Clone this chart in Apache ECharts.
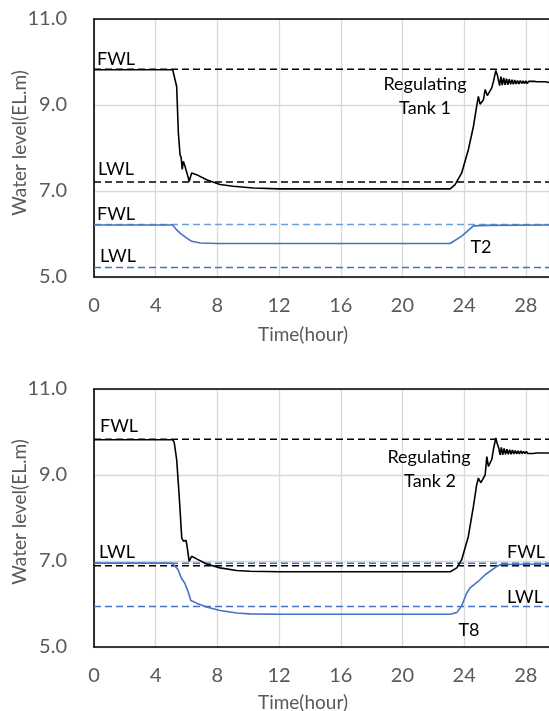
<!DOCTYPE html>
<html>
<head>
<meta charset="utf-8">
<script src="https://cdn.jsdelivr.net/npm/echarts@6/dist/echarts.min.js"></script>
<style>
  html, body { margin: 0; padding: 0; background: #fff; }
  #chart { width: 549px; height: 711px; }
</style>
</head>
<body>
<div id="chart"></div>
<script>
// ---------------- data (time in hours, water level in EL.m)
const TIME_MAX = 29.5;
const xTicks = [0, 4, 8, 12, 16, 20, 24, 28];
const yTicks = [5, 7, 9, 11];

// 上图：Regulating Tank 1 + T2
const tank1 = [
  [0, 9.82], [5.1, 9.82], [5.2, 9.78], [5.36, 9.43], [5.47, 8.35], [5.58, 7.84],
  [5.65, 7.78], [5.72, 7.5], [5.79, 7.69], [5.88, 7.6], [6.0, 7.57], [6.12, 7.3],
  [6.17, 7.22], [6.33, 7.42], [6.65, 7.38], [7.3, 7.26], [8.17, 7.15], [9.03, 7.11],
  [10.33, 7.07], [12, 7.05], [23.09, 7.05], [23.41, 7.15], [23.84, 7.42], [24.27, 7.96],
  [24.6, 8.5], [24.81, 8.97], [24.92, 9.2], [25.03, 9.02], [25.14, 9.06], [25.25, 9.12],
  [25.36, 9.36], [25.5, 9.22], [25.57, 9.26], [25.79, 9.4], [25.9, 9.55], [26.05, 9.8],
  [26.15, 9.7], [26.22, 9.68], [26.3, 9.45], [26.38, 9.66], [26.47, 9.46], [26.56, 9.63],
  [26.65, 9.47], [26.74, 9.61], [26.83, 9.47], [26.92, 9.6], [27.01, 9.48], [27.1, 9.59],
  [27.19, 9.48], [27.28, 9.58], [27.37, 9.49], [27.46, 9.57], [27.55, 9.49], [27.64, 9.57],
  [27.73, 9.5], [27.82, 9.56], [27.91, 9.5], [28.0, 9.56], [28.09, 9.5], [28.18, 9.55],
  [28.27, 9.51], [28.36, 9.55], [28.45, 9.51], [28.54, 9.55], [28.63, 9.51], [28.72, 9.54],
  [28.81, 9.51], [28.9, 9.54], [28.99, 9.51], [29.08, 9.54], [29.17, 9.52], [29.26, 9.54],
  [29.35, 9.52], [29.44, 9.53], [29.53, 9.52]
];
const t2 = [
  [0, 6.21], [5.1, 6.21], [5.3, 6.12], [5.58, 6.02], [5.95, 5.92], [6.33, 5.83],
  [6.9, 5.79], [8, 5.78], [23.09, 5.78], [23.84, 5.95], [24.6, 6.19], [25.5, 6.2],
  [29.5, 6.21]
];
const tank1FWL = 9.83;
const tank1LWL = 7.21;
const t2FWL = 6.22;
const t2LWL = 5.22;

// 下图：Regulating Tank 2 + T8
const tank2 = [
  [0, 9.82], [5.1, 9.82], [5.2, 9.76], [5.36, 9.36], [5.47, 8.8], [5.58, 8.19],
  [5.69, 7.53], [5.8, 7.46], [5.9, 7.5], [5.97, 7.48], [6.05, 7.3], [6.17, 6.99],
  [6.23, 6.99], [6.33, 7.11], [6.65, 7.05], [7.3, 6.93], [8.17, 6.84], [9.25, 6.78],
  [10.1, 6.76], [12, 6.75], [23.1, 6.75], [23.52, 6.84], [23.84, 7.03], [24.27, 7.57],
  [24.6, 8.27], [24.81, 8.77], [24.92, 8.93], [25.07, 8.82], [25.2, 8.9], [25.36, 9.0],
  [25.47, 9.43], [25.57, 9.2], [25.79, 9.36], [25.9, 9.6], [26.05, 9.86], [26.15, 9.72],
  [26.25, 9.62], [26.33, 9.47], [26.41, 9.64], [26.5, 9.47], [26.59, 9.62], [26.68, 9.48],
  [26.77, 9.6], [26.86, 9.48], [26.95, 9.59], [27.04, 9.48], [27.13, 9.58], [27.22, 9.49],
  [27.31, 9.57], [27.4, 9.49], [27.49, 9.56], [27.58, 9.49], [27.67, 9.56], [27.76, 9.5],
  [27.85, 9.55], [27.94, 9.5], [28.03, 9.55], [28.12, 9.5], [28.21, 9.54], [28.3, 9.5],
  [28.39, 9.54], [28.48, 9.5], [28.57, 9.54], [28.66, 9.51], [28.75, 9.53], [28.84, 9.51],
  [28.93, 9.53], [29.02, 9.51], [29.11, 9.53], [29.2, 9.51], [29.29, 9.53], [29.38, 9.51],
  [29.47, 9.52], [29.56, 9.51]
];
const t8 = [
  [0, 6.95], [5.03, 6.95], [5.2, 6.9], [5.45, 6.8], [5.67, 6.6], [5.88, 6.49],
  [6.1, 6.29], [6.28, 6.08], [6.65, 6.02], [7.3, 5.93], [8.17, 5.85], [9.25, 5.79],
  [10.1, 5.77], [12, 5.76], [23.1, 5.76], [23.52, 5.8], [23.84, 5.96], [24.16, 6.25],
  [24.37, 6.37], [24.92, 6.53], [25.36, 6.68], [26.1, 6.87], [26.4, 6.92], [29.5, 6.93]
];
const tank2FWL = 9.83;
const tank2LWL = 6.89;
const t8FWL = 6.95;
const t8LWL = 5.94;

// ---------------- style
const FONT = 'Lato';
const BLACK = '#000000';
const BLUE = '#4472C4';
const LIGHT_BLUE = '#6A9FDA';
const GRAY_TEXT = '#595959';
const GRID_LINE = '#D9D9D9';

const chart = echarts.init(document.getElementById('chart'), null, { renderer: 'canvas' });

const grids = [
  { left: 94, top: 19, width: 455, height: 258 },
  { left: 94, top: 389, width: 455, height: 258 }
];

function mainX(gi) {
  return {
    type: 'value', gridIndex: gi, min: 0, max: TIME_MAX, interval: 4,
    axisLine: { show: true, onZero: false, lineStyle: { color: BLACK, width: 1.6 } },
    axisTick: { show: false },
    axisLabel: {
      color: GRAY_TEXT, fontSize: 20, fontFamily: FONT, margin: 19,
      showMaxLabel: false,
      formatter: v => (xTicks.indexOf(v) >= 0 ? String(v) : '')
    },
    splitLine: { show: true, lineStyle: { color: GRID_LINE, width: 1.3 } }
  };
}
function topX(gi) {
  // 上边框
  return {
    type: 'value', gridIndex: gi, position: 'top', min: 0, max: TIME_MAX,
    axisLine: { show: true, onZero: false, lineStyle: { color: BLACK, width: 1.6 } },
    axisTick: { show: false }, axisLabel: { show: false }, splitLine: { show: false }
  };
}
function mainY(gi) {
  return {
    type: 'value', gridIndex: gi, min: yTicks[0], max: yTicks[yTicks.length - 1], interval: 2,
    axisLine: { show: true, onZero: false, lineStyle: { color: BLACK, width: 1.6 } },
    axisTick: { show: false },
    axisLabel: { color: GRAY_TEXT, fontSize: 20, fontFamily: FONT, margin: 27, formatter: v => v.toFixed(1) },
    splitLine: { show: true, lineStyle: { color: GRID_LINE, width: 1.3 } }
  };
}

function solid(data, color, xi) {
  return {
    type: 'line', data: data, xAxisIndex: xi, yAxisIndex: xi / 2,
    showSymbol: false, symbol: 'none', animation: false, z: 3,
    lineStyle: { color: color, width: 1.6 }
  };
}
function level(v, color, xi) {
  return {
    type: 'line', data: [[0, v], [TIME_MAX, v]], xAxisIndex: xi, yAxisIndex: xi / 2,
    showSymbol: false, symbol: 'none', animation: false, z: 2,
    lineStyle: { color: color, width: 1.5, type: [7, 4] }
  };
}

function txt(text, x, y, opts) {
  return Object.assign({
    type: 'text', x: x, y: y, z: 10,
    style: Object.assign({
      text: text, fill: BLACK, font: '18px ' + FONT, align: 'left', verticalAlign: 'middle'
    }, (opts && opts.style) || {})
  }, (opts && opts.props) || {});
}
const center = { style: { align: 'center' } };
const axisTitle = { style: { align: 'center', fill: GRAY_TEXT, font: '19px ' + FONT } };
const yTitle = { style: { align: 'center', fill: GRAY_TEXT, font: '19px ' + FONT }, props: { rotation: Math.PI / 2 } };

const option = {
  backgroundColor: '#fff',
  animation: false,
  grid: grids,
  xAxis: [mainX(0), topX(0), mainX(1), topX(1)],
  yAxis: [mainY(0), mainY(1)],
  series: [
    level(tank1FWL, BLACK, 0),
    level(tank1LWL, BLACK, 0),
    level(t2FWL, LIGHT_BLUE, 0),
    level(t2LWL, BLUE, 0),
    solid(t2, BLUE, 0),
    solid(tank1, BLACK, 0),
    level(tank2FWL, BLACK, 2),
    level(tank2LWL, BLACK, 2),
    level(t8FWL, BLUE, 2),
    level(t8LWL, BLUE, 2),
    solid(t8, BLUE, 2),
    solid(tank2, BLACK, 2)
  ],
  graphic: [
    // 上图标注
    txt('FWL', 97, 59),
    txt('LWL', 98, 169),
    txt('FWL', 97, 214),
    txt('LWL', 100, 256),
    txt('Regulating', 425, 84, center),
    txt('Tank 1', 425, 108, center),
    txt('T2', 481, 247, center),
    txt('Water level(EL.m)', 20, 143, yTitle),
    txt('Time(hour)', 303, 335, axisTitle),
    // 下图标注
    txt('FWL', 100, 426),
    txt('LWL', 99, 552),
    txt('Regulating', 429, 457, center),
    txt('Tank 2', 430, 481, center),
    txt('FWL', 507, 552),
    txt('LWL', 507, 597),
    txt('T8', 469, 630, center),
    txt('Water level(EL.m)', 20, 512, yTitle),
    txt('Time(hour)', 303, 703, axisTitle)
  ]
};
chart.setOption(option);
</script>
</body>
</html>
